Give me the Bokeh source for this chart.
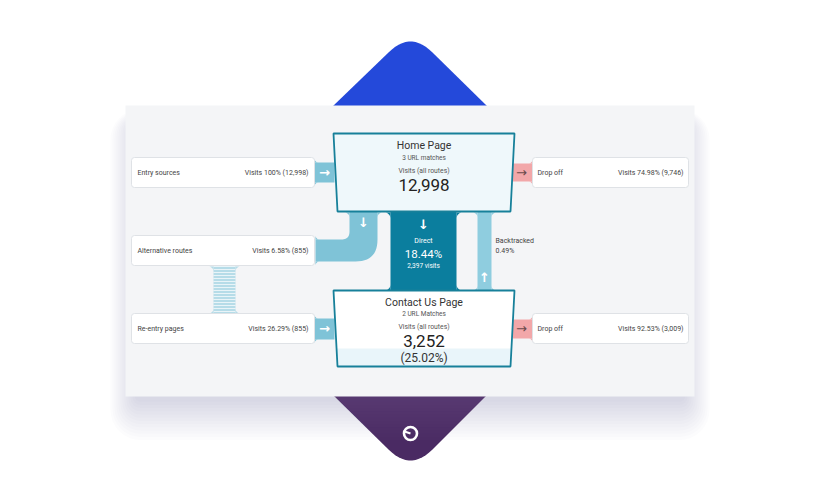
import numpy as np
from bokeh.plotting import figure
from bokeh.models import Range1d
from bokeh.core.properties import value
from bokeh.embed import file_html
from bokeh.resources import INLINE

# ---------------- data ----------------
page_names = ["Home Page", "Contact Us Page"]
page_matches = ["3 URL matches", "2 URL Matches"]
page_visits = [12998, 3252]
contact_share_pct = 25.02
source_labels = ["Entry sources", "Alternative routes", "Re-entry pages"]
source_pcts = [100, 6.58, 26.29]
source_visits = [12998, 855, 855]
dropoff_labels = ["Drop off", "Drop off"]
dropoff_pcts = [74.98, 92.53]
dropoff_visits = [9746, 3009]
direct_pct = 18.44
direct_visits = 2397
backtracked_pct = 0.49

FONT = value("Roboto")
ARROWF = value("DejaVu Sans")

def qbez(p0, c, p1, n=14):
    t = np.linspace(0, 1, n)
    x = (1 - t) ** 2 * p0[0] + 2 * (1 - t) * t * c[0] + t ** 2 * p1[0]
    y = (1 - t) ** 2 * p0[1] + 2 * (1 - t) * t * c[1] + t ** 2 * p1[1]
    return list(x), list(y)

def fillet(x, y, dx, dy, r):
    t = np.linspace(0, np.pi / 2, 10)
    cx, cy = x + dx * r, y + dy * r
    xs = [x] + list(cx - dx * r * np.sin(t))
    ys = [y] + list(cy - dy * r * np.cos(t))
    return xs, ys

p = figure(width=804, height=484, x_range=Range1d(0, 804), y_range=Range1d(484, 0),
           output_backend="svg", toolbar_location=None, min_border=0,
           x_axis_type=None, y_axis_type=None)
p.grid.visible = False
p.outline_line_color = None
p.background_fill_color = "white"
p.border_fill_color = "white"

# ---------------- decorative diamond ----------------
bx, by = qbez((388, 52), (410, 30), (432, 52))
p.patch([332] + bx + [487], [106] + by + [106], fill_color="#2449da", line_color=None)
px_, py_ = qbez((388, 449), (410, 471), (432, 449))
p.patch([332] + px_ + [487], [394] + py_ + [394], fill_color="#4a2a63", line_color=None)

# shadow of the panel
for k in range(1, 14):
    e = k * 2.0
    p.quad(left=136 - e, right=683 + e, top=122 - e * 0.5, bottom=398 + e * 1.6,
           fill_color="#8a90a3", fill_alpha=0.022, line_color=None, border_radius=int(e) + 4)

# panel
p.quad(left=125, right=694, top=105, bottom=396, fill_color="#f4f5f7", line_color=None)

# logo
p.circle(x=[410], y=[433], radius=6.5, fill_alpha=0, line_color="white", line_width=2.6)
p.segment(x0=[404], y0=[431], x1=[410], y1=[433], line_color="white", line_width=2)

# ---------------- connectors ----------------
LB = "#7fc3d7"
PK = "#f2a7a9"
DK = "#0b7e9e"
LB2 = "#8fcddf"
fl_x, fl_y, fl_c = [], [], []

def add_fillet(x, y, dx, dy, r, c):
    a, b = fillet(x, y, dx, dy, r)
    fl_x.append(a); fl_y.append(b); fl_c.append(c)

# entry / re-entry tabs
for (t, b) in [(162, 182), (318, 339)]:
    p.quad(left=313, right=334, top=t, bottom=b, fill_color=LB, line_color=None)
    add_fillet(314, t, 1, -1, 4, LB)
    add_fillet(314, b, 1, 1, 4, LB)
# drop-off tabs
for (t, b) in [(163, 181), (319, 338)]:
    p.quad(left=512, right=533, top=t, bottom=b, fill_color=PK, line_color=None)
    add_fillet(532, t, -1, -1, 4, PK)
    add_fillet(532, b, -1, 1, 4, PK)

# alternative-routes bend
ix, iy = qbez((349, 231), (349, 239), (341, 239))
ox, oy = qbez((355, 261), (377, 261), (377, 239))
p.patch([349, 349] + ix + [315, 315] + ox + [377, 377],
        [210, 231] + iy + [239, 261] + oy + [239, 210], fill_color=LB, line_color=None)
add_fillet(349, 212, -1, 1, 5, LB)
add_fillet(377, 212, 1, 1, 5, LB)
add_fillet(315, 239, 1, -1, 4, LB)
add_fillet(315, 261, 1, 1, 4, LB)

# hatched link between alternative routes and re-entry pages
p.quad(left=213, right=235, top=265, bottom=314, fill_color="#b6dce8", line_color=None,
       hatch_pattern="horizontal_line", hatch_color="white", hatch_scale=3, hatch_weight=0.7)
for (xx, dx) in [(213, -1), (235, 1)]:
    add_fillet(xx, 266, dx, 1, 5, "#b6dce8")
    add_fillet(xx, 313, dx, -1, 5, "#b6dce8")

# direct flow
p.quad(left=390, right=456, top=210, bottom=292, fill_color=DK, line_color=None)
for (xx, dx) in [(390, -1), (456, 1)]:
    add_fillet(xx, 212, dx, 1, 6, DK)
    add_fillet(xx, 290, dx, -1, 6, DK)

# backtracked flow
p.quad(left=477, right=491, top=210, bottom=292, fill_color=LB2, line_color=None)
for (xx, dx) in [(477, -1), (491, 1)]:
    add_fillet(xx, 212, dx, 1, 5, LB2)
    add_fillet(xx, 290, dx, -1, 5, LB2)

p.patches(fl_x, fl_y, fill_color=fl_c, line_color=None)

# ---------------- side boxes ----------------
src_tops = [157, 235, 313]
p.quad(left=[131] * 3, right=[314] * 3, top=src_tops, bottom=[t + 30 for t in src_tops],
       fill_color="white", line_color="#dfe2e6", line_width=1, border_radius=3)
p.text(x=[137] * 3, y=[t + 15 for t in src_tops], text=source_labels, text_font=FONT,
       text_font_size="7px", text_color="#444", text_baseline="middle")
p.text(x=[308] * 3, y=[t + 15 for t in src_tops],
       text=[f"Visits {a:g}% ({b:,})" for a, b in zip(source_pcts, source_visits)],
       text_font=FONT, text_font_size="7px", text_color="#444", text_baseline="middle",
       text_align="right")

drop_tops = [157, 313]
p.quad(left=[532] * 2, right=[688] * 2, top=drop_tops, bottom=[t + 30 for t in drop_tops],
       fill_color="white", line_color="#dfe2e6", line_width=1, border_radius=3)
p.text(x=[537] * 2, y=[t + 15 for t in drop_tops], text=dropoff_labels, text_font=FONT,
       text_font_size="7px", text_color="#444", text_baseline="middle")
p.text(x=[683] * 2, y=[t + 15 for t in drop_tops],
       text=[f"Visits {a:g}% ({b:,})" for a, b in zip(dropoff_pcts, dropoff_visits)],
       text_font=FONT, text_font_size="7px", text_color="#444", text_baseline="middle",
       text_align="right")

# ---------------- page boxes ----------------
BORDER = "#17809a"
hx = [333, 514, 510, 337]
hy = [133, 133, 211, 211]
p.patch(hx, hy, fill_color="#eff8fb", line_color=BORDER, line_width=1.8)

cx = [333, 514, 510, 337]
cy = [290, 290, 366, 366]
p.patch(cx, cy, fill_color="#ffffff", line_color=None)
f = (348 - 290) / (366 - 290)
p.patch([333 + 4 * f, 514 - 4 * f, 510, 337], [348, 348, 366, 366],
        fill_color="#e9f5fa", line_color=None)
p.patch(cx, cy, fill_alpha=0, line_color=BORDER, line_width=1.8)

tc = [423.5, 423.5]
p.text(x=tc, y=[145, 302], text=page_names, text_font=FONT, text_font_size="10.5px",
       text_color="#333", text_align="center", text_baseline="middle")
p.text(x=tc, y=[157, 313], text=page_matches, text_font=FONT, text_font_size="6.5px",
       text_color="#555", text_align="center", text_baseline="middle")
p.text(x=tc, y=[170, 326], text=["Visits (all routes)"] * 2, text_font=FONT,
       text_font_size="6.8px", text_color="#555", text_align="center", text_baseline="middle")
p.text(x=tc, y=[184, 340], text=[f"{v:,}" for v in page_visits], text_font=FONT,
       text_font_size="17px", text_color="#222", text_align="center",
       text_baseline="middle")
p.text(x=[423.5], y=[357], text=[f"({contact_share_pct:.2f}%)"], text_font=FONT,
       text_font_size="12px", text_color="#333", text_align="center", text_baseline="middle")

# direct labels
p.text(x=[423], y=[240], text=["Direct"], text_font=FONT, text_font_size="7px",
       text_color="white", text_align="center", text_baseline="middle")
p.text(x=[423], y=[253], text=[f"{direct_pct:.2f}%"], text_font=FONT, text_font_size="11.5px",
       text_color="white", text_align="center", text_baseline="middle")
p.text(x=[423], y=[265], text=[f"{direct_visits:,} visits"], text_font=FONT,
       text_font_size="6.5px", text_color="white", text_align="center", text_baseline="middle")

# backtracked labels
p.text(x=[495, 495], y=[240, 250], text=["Backtracked", f"{backtracked_pct:.2f}%"],
       text_font=FONT, text_font_size="7px", text_color="#444", text_baseline="middle")

# arrows
p.text(x=[324, 324, 363, 423, 484], y=[172, 328, 222, 224, 277],
       text=["→", "→", "↓", "↓", "↑"], text_font=ARROWF, text_font_size="13px",
       text_font_style="bold", text_color="white", text_align="center", text_baseline="middle")
p.text(x=[521, 521], y=[172, 328], text=["→", "→"], text_font=ARROWF, text_font_size="13px",
       text_color="#6b4a4c", text_align="center", text_baseline="middle")

open("out.html", "w").write(file_html(p, INLINE))
